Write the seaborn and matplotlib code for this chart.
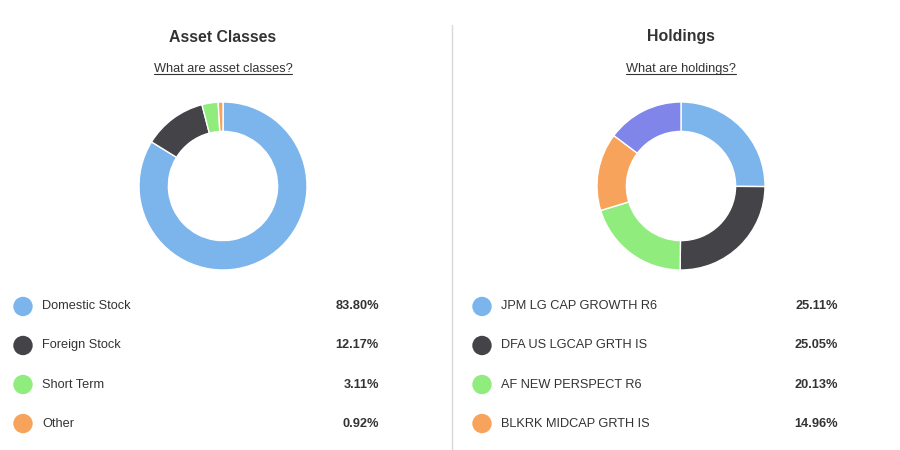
import numpy as np
import pandas as pd
import matplotlib
matplotlib.use("Agg")
import matplotlib.pyplot as plt
import seaborn as sns
from matplotlib.lines import Line2D

sns.set_theme(style="white")
plt.rcParams['font.family'] = ['Liberation Sans', 'DejaVu Sans']

# data
asset_labels = ["Domestic Stock", "Foreign Stock", "Short Term", "Other"]
asset_values = [83.80, 12.17, 3.11, 0.92]
holding_labels = ["JPM LG CAP GROWTH R6", "DFA US LGCAP GRTH IS",
                  "AF NEW PERSPECT R6", "BLKRK MIDCAP GRTH IS"]
holding_values = [25.11, 25.05, 20.13, 14.96, 14.75]  # last slice not in visible legend

palette = ["#7cb5ec", "#434348", "#90ed7d", "#f7a35c", "#8085e9"]

W, H = 900, 450
fig = plt.figure(figsize=(9, 4.5), dpi=100)
fig.patch.set_facecolor("white")


def px(x, y, w, h):
    # pixel box (top-left origin) -> figure fraction
    return [x / W, 1 - (y + h) / H, w / W, h / H]


def donut(cx, cy, r, values):
    ax = fig.add_axes(px(cx - r, cy - r, 2 * r, 2 * r))
    ax.pie(values, colors=palette[:len(values)], startangle=90, counterclock=False,
           radius=1, wedgeprops=dict(width=0.35, edgecolor="white", linewidth=1))
    ax.set_xlim(-1, 1)
    ax.set_ylim(-1, 1)
    ax.set_aspect("equal")
    ax.axis("off")


def legend(x0, width, labels, values):
    ax = fig.add_axes(px(x0, 285, width, 160))
    df = pd.DataFrame({"label": labels, "value": values})
    df["row"] = np.arange(len(df))
    sns.scatterplot(data=df, x=np.full(len(df), 23.0), y="row", hue="label",
                    palette=palette[:len(df)], s=195, edgecolor="none",
                    legend=False, ax=ax)
    for i, r in df.iterrows():
        ax.text(42, r["row"], r["label"], va="center", ha="left",
                fontsize=9.2, color="#333333")
        ax.text(379, r["row"], f"{r['value']:.2f}%", va="center", ha="right",
                fontsize=9.2, color="#333333", fontweight="bold")
    ax.set_xlim(0, width)
    ax.set_ylim(3.55, -0.55)
    ax.axis("off")


def header(cx, title, sub):
    fig.text(cx / W, 1 - 37 / H, title, ha="center", va="center",
             fontsize=11.4, fontweight="bold", color="#333333")
    t = fig.text(cx / W, 1 - 69 / H, sub, ha="center", va="center",
                 fontsize=9.2, color="#333333")
    fig.canvas.draw()
    bb = t.get_window_extent().transformed(fig.transFigure.inverted())
    fig.add_artist(Line2D([bb.x0, bb.x1], [bb.y0 + 0.002, bb.y0 + 0.002],
                          transform=fig.transFigure, color="#333333", linewidth=0.8))


header(223, "Asset Classes", "What are asset classes?")
header(681, "Holdings", "What are holdings?")

donut(223, 186, 84, asset_values)
donut(681, 186, 84, holding_values)

legend(0, 452, asset_labels, asset_values)
legend(459, 441, holding_labels, holding_values[:4])

# divider
fig.add_artist(Line2D([452 / W, 452 / W], [1 - 25 / H, 0], transform=fig.transFigure,
                      color="#d8d8d8", linewidth=1))

fig.savefig("out.png", dpi=100, facecolor="white")
